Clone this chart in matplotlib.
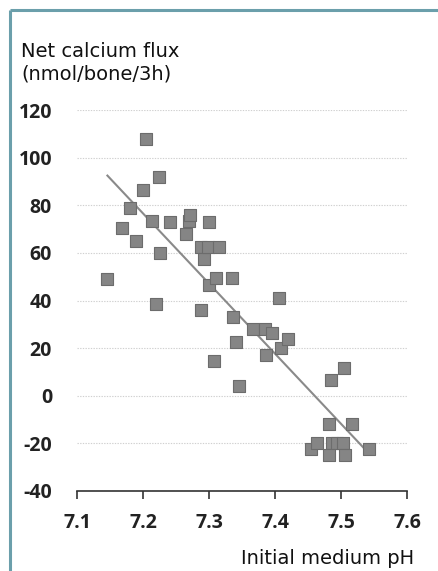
import numpy as np
import matplotlib
matplotlib.use("Agg")
import matplotlib.pyplot as plt
from matplotlib.lines import Line2D

# Initial medium pH vs net calcium flux (nmol/bone/3h)
ph = [7.145, 7.168, 7.180, 7.190, 7.200, 7.205, 7.213, 7.220, 7.224, 7.225,
      7.241, 7.265, 7.270, 7.271, 7.288, 7.292, 7.299, 7.300, 7.315, 7.288,
      7.300, 7.311, 7.335, 7.336, 7.341, 7.308, 7.346, 7.367, 7.385, 7.396,
      7.406, 7.409, 7.419, 7.386, 7.485, 7.505, 7.482, 7.517, 7.455, 7.463,
      7.486, 7.494, 7.503, 7.482, 7.506, 7.542]
flux = [49, 70.5, 79, 65, 86.5, 108, 73.5, 38.5, 92, 60,
        73, 68, 73.5, 76, 62.5, 57.5, 62.5, 73, 62.5, 36,
        46.5, 49.5, 49.5, 33, 22.5, 14.5, 4, 28, 28, 26.5,
        41, 20, 24, 17, 6.5, 11.5, -12, -12, -22.5, -20,
        -20, -20, -20, -25, -25, -22.5]

x_ticks = [7.1, 7.2, 7.3, 7.4, 7.5, 7.6]
y_ticks = [-40, -20, 0, 20, 40, 60, 80, 100, 120]

ph = np.array(ph)
flux = np.array(flux)

# least squares fit over the measured range
slope, intercept = np.polyfit(ph, flux, 1)
fit_x = np.array([ph.min(), ph.max()])
fit_y = slope * fit_x + intercept

W, H = 438, 571
fig = plt.figure(figsize=(W / 100, H / 100), dpi=100)
ax = fig.add_axes([77 / W, 1 - 491 / H, (407 - 77) / W, (491 - 110) / H])

ax.plot(fit_x, fit_y, color="#8a8a8a", lw=1.5, zorder=2, solid_capstyle="butt")
ax.scatter(ph, flux, marker="s", s=68, facecolor="#858585",
           edgecolor="#6c6c6c", linewidths=0.8, zorder=3)

ax.set_xlim(7.1, 7.6)
ax.set_ylim(-40, 120)
ax.set_xticks(x_ticks)
ax.set_yticks(y_ticks)
ax.set_xticklabels([f"{t:.1f}" for t in x_ticks])
ax.set_yticklabels([str(t) for t in y_ticks])

for sp in ["top", "right", "left"]:
    ax.spines[sp].set_visible(False)
ax.spines["bottom"].set_color("#333333")
ax.spines["bottom"].set_linewidth(1.2)

ax.tick_params(axis="x", direction="out", length=6, width=1.2, color="#333333",
               pad=10, labelsize=14)
ax.tick_params(axis="y", length=0, pad=18, labelsize=14)
for lab in ax.get_xticklabels() + ax.get_yticklabels():
    lab.set_family(["Open Sans", "DejaVu Sans"])
    lab.set_fontweight("bold")
    lab.set_color("#222222")

ax.yaxis.grid(True, color="#d0d0d0", lw=0.8, ls=(0, (1.2, 1.2)))
ax.set_axisbelow(True)

fig.text(21 / W, 1 - 57 / H, "Net calcium flux", fontsize=14,
         family="DejaVu Sans", va="baseline", ha="left", color="#111111")
fig.text(21 / W, 1 - 80 / H, "(nmol/bone/3h)", fontsize=14,
         family="DejaVu Sans", va="baseline", ha="left", color="#111111")
fig.text(414 / W, 1 - 564 / H, "Initial medium pH", fontsize=14,
         family="DejaVu Sans", va="baseline", ha="right", color="#111111")

# teal frame on the left and top edges
frame = "#6b9fab"
fig.add_artist(Line2D([10 / W, 10 / W], [0, 1 - 9.5 / H], transform=fig.transFigure,
                      color=frame, lw=2.2, solid_capstyle="butt"))
fig.add_artist(Line2D([10 / W, 1], [1 - 9.5 / H, 1 - 9.5 / H], transform=fig.transFigure,
                      color=frame, lw=2.2, solid_capstyle="butt"))

fig.savefig("out.png", dpi=100)
